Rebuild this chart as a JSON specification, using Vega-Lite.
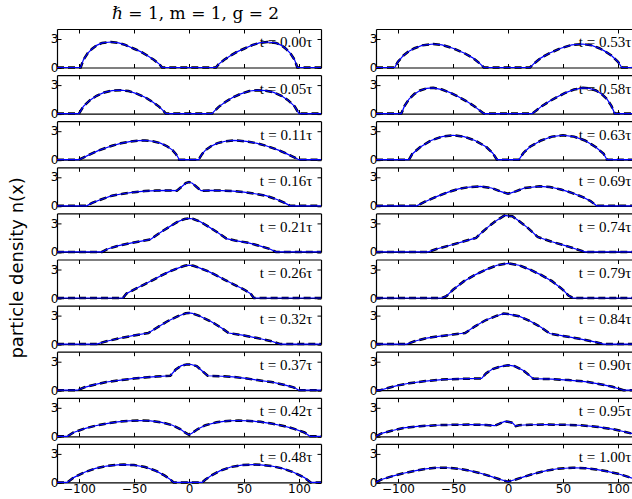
{
"$schema": "https://vega.github.io/schema/vega-lite/v6.json",
"background": "white",
"padding": {"left": 7, "top": 4, "right": 0, "bottom": 5},
"title": {"text": "ℏ = 1, m = 1, g = 2", "anchor": "start", "frame": "group", "dx": 55, "font": "DejaVu Serif", "fontSize": 17, "fontWeight": "normal", "color": "black", "offset": 6},
"config": {
  "view": {"continuousWidth": 264, "continuousHeight": 38.5, "stroke": null},
  "axis": {"domainColor": "black", "domainWidth": 1.2, "tickColor": "black", "tickSize": -4, "tickWidth": 1, "labelFont": "DejaVu Sans", "labelFontSize": 12, "labelColor": "black", "labelPadding": 3, "labelFlush": false, "labelOverlap": false, "labelBound": false, "grid": false},
  "axisX": {"labelPadding": 5},
  "text": {"font": "Liberation Serif", "fontSize": 15, "align": "right", "baseline": "middle", "color": "black"}
},
"datasets": {"d": [
{"t":"0.00","x":-120,"n":0},{"t":"0.00","x":-98.5,"n":0},{"t":"0.00","x":-96,"n":0.8},{"t":"0.00","x":-92,"n":1.5},{"t":"0.00","x":-88,"n":1.95},{"t":"0.00","x":-84,"n":2.3},{"t":"0.00","x":-79,"n":2.55},{"t":"0.00","x":-71,"n":2.65},{"t":"0.00","x":-64,"n":2.55},{"t":"0.00","x":-58,"n":2.35},{"t":"0.00","x":-50,"n":1.95},{"t":"0.00","x":-44,"n":1.65},{"t":"0.00","x":-38,"n":1.25},{"t":"0.00","x":-32,"n":0.8},{"t":"0.00","x":-27,"n":0.35},{"t":"0.00","x":-24.5,"n":0},{"t":"0.00","x":24.5,"n":0},{"t":"0.00","x":27,"n":0.35},{"t":"0.00","x":32,"n":0.8},{"t":"0.00","x":38,"n":1.25},{"t":"0.00","x":44,"n":1.65},{"t":"0.00","x":50,"n":1.95},{"t":"0.00","x":58,"n":2.35},{"t":"0.00","x":64,"n":2.55},{"t":"0.00","x":71,"n":2.65},{"t":"0.00","x":79,"n":2.55},{"t":"0.00","x":84,"n":2.3},{"t":"0.00","x":88,"n":1.95},{"t":"0.00","x":92,"n":1.5},{"t":"0.00","x":96,"n":0.8},{"t":"0.00","x":98.5,"n":0},{"t":"0.00","x":120,"n":0},
{"t":"0.05","x":-120,"n":0},{"t":"0.05","x":-100,"n":0},{"t":"0.05","x":-96,"n":0.75},{"t":"0.05","x":-90,"n":1.4},{"t":"0.05","x":-84,"n":1.85},{"t":"0.05","x":-77,"n":2.2},{"t":"0.05","x":-70,"n":2.38},{"t":"0.05","x":-62,"n":2.43},{"t":"0.05","x":-55,"n":2.35},{"t":"0.05","x":-47,"n":2.05},{"t":"0.05","x":-40,"n":1.7},{"t":"0.05","x":-33,"n":1.2},{"t":"0.05","x":-27,"n":0.7},{"t":"0.05","x":-23,"n":0.25},{"t":"0.05","x":-21,"n":0},{"t":"0.05","x":21,"n":0},{"t":"0.05","x":23,"n":0.25},{"t":"0.05","x":27,"n":0.7},{"t":"0.05","x":33,"n":1.2},{"t":"0.05","x":40,"n":1.7},{"t":"0.05","x":47,"n":2.05},{"t":"0.05","x":55,"n":2.35},{"t":"0.05","x":62,"n":2.43},{"t":"0.05","x":70,"n":2.38},{"t":"0.05","x":77,"n":2.2},{"t":"0.05","x":84,"n":1.85},{"t":"0.05","x":90,"n":1.4},{"t":"0.05","x":96,"n":0.75},{"t":"0.05","x":100,"n":0},{"t":"0.05","x":120,"n":0},
{"t":"0.11","x":-120,"n":0},{"t":"0.11","x":-100,"n":0},{"t":"0.11","x":-90,"n":0.55},{"t":"0.11","x":-82,"n":0.97},{"t":"0.11","x":-70,"n":1.45},{"t":"0.11","x":-62,"n":1.7},{"t":"0.11","x":-54,"n":1.87},{"t":"0.11","x":-46,"n":1.98},{"t":"0.11","x":-40,"n":2.0},{"t":"0.11","x":-33,"n":1.92},{"t":"0.11","x":-26,"n":1.72},{"t":"0.11","x":-20,"n":1.4},{"t":"0.11","x":-15,"n":1.0},{"t":"0.11","x":-12,"n":0.6},{"t":"0.11","x":-10,"n":0.25},{"t":"0.11","x":-9,"n":0},{"t":"0.11","x":9,"n":0},{"t":"0.11","x":10,"n":0.25},{"t":"0.11","x":12,"n":0.6},{"t":"0.11","x":15,"n":1.0},{"t":"0.11","x":20,"n":1.4},{"t":"0.11","x":26,"n":1.72},{"t":"0.11","x":33,"n":1.92},{"t":"0.11","x":40,"n":2.0},{"t":"0.11","x":46,"n":1.98},{"t":"0.11","x":54,"n":1.87},{"t":"0.11","x":62,"n":1.7},{"t":"0.11","x":70,"n":1.45},{"t":"0.11","x":82,"n":0.97},{"t":"0.11","x":90,"n":0.55},{"t":"0.11","x":100,"n":0},{"t":"0.11","x":120,"n":0},
{"t":"0.16","x":-120,"n":0},{"t":"0.16","x":-93,"n":0},{"t":"0.16","x":-88,"n":0.3},{"t":"0.16","x":-80,"n":0.65},{"t":"0.16","x":-70,"n":1.05},{"t":"0.16","x":-60,"n":1.25},{"t":"0.16","x":-50,"n":1.42},{"t":"0.16","x":-40,"n":1.53},{"t":"0.16","x":-30,"n":1.58},{"t":"0.16","x":-20,"n":1.6},{"t":"0.16","x":-11,"n":1.57},{"t":"0.16","x":-7,"n":1.95},{"t":"0.16","x":-3,"n":2.35},{"t":"0.16","x":0,"n":2.47},{"t":"0.16","x":3,"n":2.35},{"t":"0.16","x":7,"n":1.95},{"t":"0.16","x":11,"n":1.57},{"t":"0.16","x":20,"n":1.6},{"t":"0.16","x":30,"n":1.58},{"t":"0.16","x":40,"n":1.53},{"t":"0.16","x":50,"n":1.42},{"t":"0.16","x":60,"n":1.25},{"t":"0.16","x":70,"n":1.05},{"t":"0.16","x":80,"n":0.65},{"t":"0.16","x":87,"n":0.3},{"t":"0.16","x":92,"n":0},{"t":"0.16","x":120,"n":0},
{"t":"0.21","x":-120,"n":0},{"t":"0.21","x":-79,"n":0},{"t":"0.21","x":-74,"n":0.3},{"t":"0.21","x":-65,"n":0.62},{"t":"0.21","x":-52,"n":0.94},{"t":"0.21","x":-42,"n":1.15},{"t":"0.21","x":-35,"n":1.3},{"t":"0.21","x":-30,"n":1.7},{"t":"0.21","x":-25,"n":2.1},{"t":"0.21","x":-18,"n":2.6},{"t":"0.21","x":-10,"n":3.15},{"t":"0.21","x":-4,"n":3.42},{"t":"0.21","x":0,"n":3.49},{"t":"0.21","x":4,"n":3.42},{"t":"0.21","x":10,"n":3.15},{"t":"0.21","x":18,"n":2.6},{"t":"0.21","x":25,"n":2.1},{"t":"0.21","x":30,"n":1.7},{"t":"0.21","x":34,"n":1.38},{"t":"0.21","x":42,"n":1.18},{"t":"0.21","x":54,"n":0.94},{"t":"0.21","x":65,"n":0.6},{"t":"0.21","x":74,"n":0.28},{"t":"0.21","x":79,"n":0},{"t":"0.21","x":120,"n":0},
{"t":"0.26","x":-120,"n":0},{"t":"0.26","x":-60,"n":0},{"t":"0.26","x":-57,"n":0.45},{"t":"0.26","x":-50,"n":0.88},{"t":"0.26","x":-40,"n":1.45},{"t":"0.26","x":-32,"n":1.92},{"t":"0.26","x":-24,"n":2.4},{"t":"0.26","x":-17,"n":2.79},{"t":"0.26","x":-10,"n":3.1},{"t":"0.26","x":-4,"n":3.35},{"t":"0.26","x":0,"n":3.42},{"t":"0.26","x":4,"n":3.35},{"t":"0.26","x":10,"n":3.1},{"t":"0.26","x":17,"n":2.79},{"t":"0.26","x":24,"n":2.4},{"t":"0.26","x":32,"n":1.92},{"t":"0.26","x":40,"n":1.45},{"t":"0.26","x":50,"n":0.88},{"t":"0.26","x":56,"n":0.45},{"t":"0.26","x":59,"n":0},{"t":"0.26","x":120,"n":0},
{"t":"0.32","x":-120,"n":0},{"t":"0.32","x":-84,"n":0},{"t":"0.32","x":-75,"n":0.3},{"t":"0.32","x":-62,"n":0.63},{"t":"0.32","x":-50,"n":0.9},{"t":"0.32","x":-37,"n":1.15},{"t":"0.32","x":-30,"n":1.65},{"t":"0.32","x":-20,"n":2.35},{"t":"0.32","x":-10,"n":2.9},{"t":"0.32","x":-3,"n":3.2},{"t":"0.32","x":0,"n":3.24},{"t":"0.32","x":3,"n":3.2},{"t":"0.32","x":10,"n":2.9},{"t":"0.32","x":20,"n":2.35},{"t":"0.32","x":30,"n":1.65},{"t":"0.32","x":36,"n":1.15},{"t":"0.32","x":50,"n":0.9},{"t":"0.32","x":62,"n":0.63},{"t":"0.32","x":75,"n":0.3},{"t":"0.32","x":83,"n":0},{"t":"0.32","x":120,"n":0},
{"t":"0.37","x":-120,"n":0},{"t":"0.37","x":-101.5,"n":0},{"t":"0.37","x":-95,"n":0.3},{"t":"0.37","x":-85,"n":0.6},{"t":"0.37","x":-75,"n":0.85},{"t":"0.37","x":-62,"n":1.04},{"t":"0.37","x":-50,"n":1.22},{"t":"0.37","x":-40,"n":1.33},{"t":"0.37","x":-30,"n":1.42},{"t":"0.37","x":-17,"n":1.5},{"t":"0.37","x":-12,"n":2.15},{"t":"0.37","x":-7,"n":2.55},{"t":"0.37","x":-2,"n":2.68},{"t":"0.37","x":2,"n":2.67},{"t":"0.37","x":7,"n":2.5},{"t":"0.37","x":12,"n":2.0},{"t":"0.37","x":17,"n":1.5},{"t":"0.37","x":30,"n":1.45},{"t":"0.37","x":40,"n":1.38},{"t":"0.37","x":50,"n":1.25},{"t":"0.37","x":62,"n":1.05},{"t":"0.37","x":75,"n":0.85},{"t":"0.37","x":85,"n":0.6},{"t":"0.37","x":95,"n":0.3},{"t":"0.37","x":100,"n":0},{"t":"0.37","x":120,"n":0},
{"t":"0.42","x":-120,"n":0},{"t":"0.42","x":-110.6,"n":0},{"t":"0.42","x":-105,"n":0.4},{"t":"0.42","x":-95,"n":0.8},{"t":"0.42","x":-85,"n":1.1},{"t":"0.42","x":-75,"n":1.32},{"t":"0.42","x":-65,"n":1.5},{"t":"0.42","x":-55,"n":1.6},{"t":"0.42","x":-45,"n":1.64},{"t":"0.42","x":-35,"n":1.6},{"t":"0.42","x":-25,"n":1.45},{"t":"0.42","x":-15,"n":1.15},{"t":"0.42","x":-8,"n":0.75},{"t":"0.42","x":-3,"n":0.35},{"t":"0.42","x":0,"n":0.15},{"t":"0.42","x":3,"n":0.35},{"t":"0.42","x":8,"n":0.75},{"t":"0.42","x":15,"n":1.15},{"t":"0.42","x":25,"n":1.45},{"t":"0.42","x":35,"n":1.6},{"t":"0.42","x":45,"n":1.64},{"t":"0.42","x":55,"n":1.6},{"t":"0.42","x":65,"n":1.5},{"t":"0.42","x":75,"n":1.32},{"t":"0.42","x":85,"n":1.1},{"t":"0.42","x":95,"n":0.8},{"t":"0.42","x":105,"n":0.4},{"t":"0.42","x":110,"n":0},{"t":"0.42","x":120,"n":0},
{"t":"0.48","x":-120,"n":0},{"t":"0.48","x":-110.6,"n":0},{"t":"0.48","x":-105,"n":0.5},{"t":"0.48","x":-95,"n":1.05},{"t":"0.48","x":-85,"n":1.45},{"t":"0.48","x":-75,"n":1.7},{"t":"0.48","x":-65,"n":1.83},{"t":"0.48","x":-59,"n":1.85},{"t":"0.48","x":-50,"n":1.8},{"t":"0.48","x":-40,"n":1.6},{"t":"0.48","x":-30,"n":1.2},{"t":"0.48","x":-22,"n":0.7},{"t":"0.48","x":-17,"n":0.3},{"t":"0.48","x":-14,"n":0},{"t":"0.48","x":12,"n":0},{"t":"0.48","x":15,"n":0.3},{"t":"0.48","x":20,"n":0.7},{"t":"0.48","x":28,"n":1.2},{"t":"0.48","x":38,"n":1.6},{"t":"0.48","x":48,"n":1.8},{"t":"0.48","x":58,"n":1.85},{"t":"0.48","x":65,"n":1.83},{"t":"0.48","x":75,"n":1.7},{"t":"0.48","x":85,"n":1.45},{"t":"0.48","x":95,"n":1.05},{"t":"0.48","x":105,"n":0.5},{"t":"0.48","x":110.6,"n":0},{"t":"0.48","x":120,"n":0},
{"t":"0.53","x":-120,"n":0},{"t":"0.53","x":-103,"n":0},{"t":"0.53","x":-100,"n":0.6},{"t":"0.53","x":-95,"n":1.25},{"t":"0.53","x":-90,"n":1.7},{"t":"0.53","x":-85,"n":2.0},{"t":"0.53","x":-78,"n":2.3},{"t":"0.53","x":-68,"n":2.44},{"t":"0.53","x":-60,"n":2.35},{"t":"0.53","x":-50,"n":2.0},{"t":"0.53","x":-40,"n":1.5},{"t":"0.53","x":-32,"n":1.0},{"t":"0.53","x":-26,"n":0.45},{"t":"0.53","x":-22,"n":0},{"t":"0.53","x":20,"n":0},{"t":"0.53","x":24,"n":0.45},{"t":"0.53","x":30,"n":1.0},{"t":"0.53","x":38,"n":1.5},{"t":"0.53","x":48,"n":2.0},{"t":"0.53","x":58,"n":2.35},{"t":"0.53","x":68,"n":2.44},{"t":"0.53","x":76,"n":2.3},{"t":"0.53","x":83,"n":2.0},{"t":"0.53","x":88,"n":1.7},{"t":"0.53","x":94,"n":1.25},{"t":"0.53","x":100,"n":0.6},{"t":"0.53","x":103.4,"n":0},{"t":"0.53","x":120,"n":0},
{"t":"0.58","x":-120,"n":0},{"t":"0.58","x":-97,"n":0},{"t":"0.58","x":-94,"n":0.8},{"t":"0.58","x":-90,"n":1.5},{"t":"0.58","x":-85,"n":2.05},{"t":"0.58","x":-80,"n":2.4},{"t":"0.58","x":-74,"n":2.62},{"t":"0.58","x":-68,"n":2.68},{"t":"0.58","x":-60,"n":2.5},{"t":"0.58","x":-52,"n":2.15},{"t":"0.58","x":-45,"n":1.75},{"t":"0.58","x":-38,"n":1.3},{"t":"0.58","x":-31,"n":0.8},{"t":"0.58","x":-26,"n":0.35},{"t":"0.58","x":-22,"n":0},{"t":"0.58","x":22,"n":0},{"t":"0.58","x":26,"n":0.35},{"t":"0.58","x":31,"n":0.8},{"t":"0.58","x":38,"n":1.3},{"t":"0.58","x":45,"n":1.75},{"t":"0.58","x":52,"n":2.15},{"t":"0.58","x":60,"n":2.5},{"t":"0.58","x":68,"n":2.68},{"t":"0.58","x":74,"n":2.62},{"t":"0.58","x":80,"n":2.4},{"t":"0.58","x":85,"n":2.05},{"t":"0.58","x":90,"n":1.5},{"t":"0.58","x":94,"n":0.8},{"t":"0.58","x":97,"n":0},{"t":"0.58","x":120,"n":0},
{"t":"0.63","x":-120,"n":0},{"t":"0.63","x":-90,"n":0},{"t":"0.63","x":-87,"n":0.6},{"t":"0.63","x":-80,"n":1.3},{"t":"0.63","x":-70,"n":2.0},{"t":"0.63","x":-60,"n":2.4},{"t":"0.63","x":-50,"n":2.54},{"t":"0.63","x":-40,"n":2.4},{"t":"0.63","x":-30,"n":2.0},{"t":"0.63","x":-20,"n":1.35},{"t":"0.63","x":-14,"n":0.7},{"t":"0.63","x":-10,"n":0},{"t":"0.63","x":10,"n":0},{"t":"0.63","x":14,"n":0.7},{"t":"0.63","x":20,"n":1.35},{"t":"0.63","x":30,"n":2.0},{"t":"0.63","x":40,"n":2.4},{"t":"0.63","x":50,"n":2.54},{"t":"0.63","x":60,"n":2.4},{"t":"0.63","x":70,"n":2.0},{"t":"0.63","x":80,"n":1.3},{"t":"0.63","x":87,"n":0.6},{"t":"0.63","x":90,"n":0},{"t":"0.63","x":120,"n":0},
{"t":"0.69","x":-120,"n":0},{"t":"0.69","x":-83,"n":0},{"t":"0.69","x":-75,"n":0.45},{"t":"0.69","x":-65,"n":0.95},{"t":"0.69","x":-55,"n":1.4},{"t":"0.69","x":-45,"n":1.75},{"t":"0.69","x":-35,"n":1.95},{"t":"0.69","x":-25,"n":2.02},{"t":"0.69","x":-15,"n":1.85},{"t":"0.69","x":-7,"n":1.5},{"t":"0.69","x":0,"n":1.25},{"t":"0.69","x":7,"n":1.5},{"t":"0.69","x":15,"n":1.85},{"t":"0.69","x":29,"n":2.02},{"t":"0.69","x":38,"n":1.95},{"t":"0.69","x":48,"n":1.7},{"t":"0.69","x":58,"n":1.35},{"t":"0.69","x":68,"n":0.9},{"t":"0.69","x":75,"n":0.5},{"t":"0.69","x":80.6,"n":0},{"t":"0.69","x":120,"n":0},
{"t":"0.74","x":-120,"n":0},{"t":"0.74","x":-72.4,"n":0},{"t":"0.74","x":-65,"n":0.3},{"t":"0.74","x":-50,"n":0.77},{"t":"0.74","x":-40,"n":1.1},{"t":"0.74","x":-29,"n":1.46},{"t":"0.74","x":-25,"n":1.9},{"t":"0.74","x":-18,"n":2.6},{"t":"0.74","x":-10,"n":3.3},{"t":"0.74","x":-3,"n":3.8},{"t":"0.74","x":0,"n":3.75},{"t":"0.74","x":4,"n":3.7},{"t":"0.74","x":10,"n":3.2},{"t":"0.74","x":18,"n":2.5},{"t":"0.74","x":27,"n":1.55},{"t":"0.74","x":40,"n":1.05},{"t":"0.74","x":55,"n":0.55},{"t":"0.74","x":63,"n":0.25},{"t":"0.74","x":70,"n":0},{"t":"0.74","x":120,"n":0},
{"t":"0.79","x":-120,"n":0},{"t":"0.79","x":-60,"n":0},{"t":"0.79","x":-56,"n":0.2},{"t":"0.79","x":-50,"n":0.85},{"t":"0.79","x":-40,"n":1.75},{"t":"0.79","x":-30,"n":2.4},{"t":"0.79","x":-20,"n":2.95},{"t":"0.79","x":-10,"n":3.4},{"t":"0.79","x":0,"n":3.6},{"t":"0.79","x":10,"n":3.4},{"t":"0.79","x":20,"n":2.95},{"t":"0.79","x":30,"n":2.4},{"t":"0.79","x":40,"n":1.75},{"t":"0.79","x":50,"n":0.85},{"t":"0.79","x":55,"n":0.25},{"t":"0.79","x":59,"n":0},{"t":"0.79","x":120,"n":0},
{"t":"0.84","x":-120,"n":0},{"t":"0.84","x":-92,"n":0},{"t":"0.84","x":-85,"n":0.3},{"t":"0.84","x":-74,"n":0.63},{"t":"0.84","x":-60,"n":0.85},{"t":"0.84","x":-50,"n":1.0},{"t":"0.84","x":-39,"n":1.15},{"t":"0.84","x":-30,"n":1.85},{"t":"0.84","x":-20,"n":2.5},{"t":"0.84","x":-10,"n":2.95},{"t":"0.84","x":-4,"n":3.17},{"t":"0.84","x":0,"n":3.12},{"t":"0.84","x":10,"n":2.9},{"t":"0.84","x":20,"n":2.4},{"t":"0.84","x":30,"n":1.75},{"t":"0.84","x":38,"n":1.1},{"t":"0.84","x":50,"n":0.85},{"t":"0.84","x":65,"n":0.55},{"t":"0.84","x":80,"n":0.2},{"t":"0.84","x":87,"n":0},{"t":"0.84","x":120,"n":0},
{"t":"0.90","x":-120,"n":0},{"t":"0.90","x":-116,"n":0},{"t":"0.90","x":-110,"n":0.2},{"t":"0.90","x":-100,"n":0.5},{"t":"0.90","x":-90,"n":0.72},{"t":"0.90","x":-75,"n":0.95},{"t":"0.90","x":-60,"n":1.1},{"t":"0.90","x":-45,"n":1.17},{"t":"0.90","x":-24,"n":1.22},{"t":"0.90","x":-20,"n":1.75},{"t":"0.90","x":-14,"n":2.2},{"t":"0.90","x":-7,"n":2.45},{"t":"0.90","x":0,"n":2.6},{"t":"0.90","x":6,"n":2.5},{"t":"0.90","x":14,"n":2.05},{"t":"0.90","x":23,"n":1.2},{"t":"0.90","x":40,"n":1.15},{"t":"0.90","x":55,"n":1.05},{"t":"0.90","x":70,"n":0.9},{"t":"0.90","x":85,"n":0.6},{"t":"0.90","x":95,"n":0.35},{"t":"0.90","x":105,"n":0},{"t":"0.90","x":120,"n":0},
{"t":"0.95","x":-120,"n":0},{"t":"0.95","x":-115,"n":0.3},{"t":"0.95","x":-105,"n":0.6},{"t":"0.95","x":-95,"n":0.87},{"t":"0.95","x":-80,"n":1.05},{"t":"0.95","x":-65,"n":1.15},{"t":"0.95","x":-50,"n":1.2},{"t":"0.95","x":-35,"n":1.22},{"t":"0.95","x":-20,"n":1.18},{"t":"0.95","x":-12,"n":1.1},{"t":"0.95","x":-8,"n":1.3},{"t":"0.95","x":-3,"n":1.55},{"t":"0.95","x":0,"n":1.52},{"t":"0.95","x":4,"n":1.4},{"t":"0.95","x":7,"n":1.05},{"t":"0.95","x":10,"n":1.15},{"t":"0.95","x":20,"n":1.2},{"t":"0.95","x":35,"n":1.22},{"t":"0.95","x":50,"n":1.2},{"t":"0.95","x":65,"n":1.15},{"t":"0.95","x":80,"n":1.0},{"t":"0.95","x":95,"n":0.75},{"t":"0.95","x":105,"n":0.5},{"t":"0.95","x":112,"n":0.3},{"t":"0.95","x":120,"n":0},
{"t":"1.00","x":-120,"n":0},{"t":"1.00","x":-115,"n":0.3},{"t":"1.00","x":-105,"n":0.65},{"t":"1.00","x":-95,"n":0.95},{"t":"1.00","x":-85,"n":1.2},{"t":"1.00","x":-75,"n":1.4},{"t":"1.00","x":-65,"n":1.52},{"t":"1.00","x":-55,"n":1.52},{"t":"1.00","x":-45,"n":1.42},{"t":"1.00","x":-35,"n":1.22},{"t":"1.00","x":-25,"n":0.95},{"t":"1.00","x":-15,"n":0.6},{"t":"1.00","x":-7,"n":0.3},{"t":"1.00","x":0,"n":0.08},{"t":"1.00","x":7,"n":0.3},{"t":"1.00","x":15,"n":0.6},{"t":"1.00","x":25,"n":0.95},{"t":"1.00","x":35,"n":1.22},{"t":"1.00","x":45,"n":1.42},{"t":"1.00","x":59,"n":1.52},{"t":"1.00","x":70,"n":1.48},{"t":"1.00","x":80,"n":1.35},{"t":"1.00","x":90,"n":1.15},{"t":"1.00","x":100,"n":0.9},{"t":"1.00","x":110,"n":0.55},{"t":"1.00","x":120,"n":0.2}
]},
"data": {"name": "d"},
"spacing": 43,
"hconcat": [
{"spacing": 7.1, "bounds": "flush",
 "vconcat": [
{"transform":[{"filter":"datum.t==='0.00'"}],"layer":[{"transform":[{"filter":"datum.x===-120"},{"calculate":"'t = '+datum.t+'τ'","as":"lab"}],"mark":"text","encoding":{"x":{"datum":112,"type":"quantitative","scale":{"domain":[-120,120]},"axis":null},"y":{"datum":2.6,"type":"quantitative","scale":{"domain":[0,4]},"axis":null},"text":{"field":"lab"}}},{"mark":{"type":"line","color":"black","strokeDash":[7,4],"strokeWidth":2.5},"encoding":{"x":{"field":"x","type":"quantitative","scale":{"domain":[-120,120]},"axis":{"orient":"top","values":[-100,-50,0,50,100],"labels":false,"title":null}},"y":{"field":"n","type":"quantitative","scale":{"domain":[0,4]},"axis":{"orient":"right","values":[0,3],"labels":false,"title":null}}}},{"mark":{"type":"line","color":"#0000ff","strokeWidth":1.2},"encoding":{"x":{"field":"x","type":"quantitative","scale":{"domain":[-120,120]},"axis":{"values":[-100,-50,0,50,100],"labels":false,"title":null}},"y":{"field":"n","type":"quantitative","scale":{"domain":[0,4]},"axis":{"values":[0,3],"title":null}}}}],"resolve":{"axis":{"x":"independent","y":"independent"}}},
{"transform":[{"filter":"datum.t==='0.05'"}],"layer":[{"transform":[{"filter":"datum.x===-120"},{"calculate":"'t = '+datum.t+'τ'","as":"lab"}],"mark":"text","encoding":{"x":{"datum":112,"type":"quantitative","scale":{"domain":[-120,120]},"axis":null},"y":{"datum":2.6,"type":"quantitative","scale":{"domain":[0,4]},"axis":null},"text":{"field":"lab"}}},{"mark":{"type":"line","color":"black","strokeDash":[7,4],"strokeWidth":2.5},"encoding":{"x":{"field":"x","type":"quantitative","scale":{"domain":[-120,120]},"axis":{"orient":"top","values":[-100,-50,0,50,100],"labels":false,"title":null}},"y":{"field":"n","type":"quantitative","scale":{"domain":[0,4]},"axis":{"orient":"right","values":[0,3],"labels":false,"title":null}}}},{"mark":{"type":"line","color":"#0000ff","strokeWidth":1.2},"encoding":{"x":{"field":"x","type":"quantitative","scale":{"domain":[-120,120]},"axis":{"values":[-100,-50,0,50,100],"labels":false,"title":null}},"y":{"field":"n","type":"quantitative","scale":{"domain":[0,4]},"axis":{"values":[0,3],"title":null}}}}],"resolve":{"axis":{"x":"independent","y":"independent"}}},
{"transform":[{"filter":"datum.t==='0.11'"}],"layer":[{"transform":[{"filter":"datum.x===-120"},{"calculate":"'t = '+datum.t+'τ'","as":"lab"}],"mark":"text","encoding":{"x":{"datum":112,"type":"quantitative","scale":{"domain":[-120,120]},"axis":null},"y":{"datum":2.6,"type":"quantitative","scale":{"domain":[0,4]},"axis":null},"text":{"field":"lab"}}},{"mark":{"type":"line","color":"black","strokeDash":[7,4],"strokeWidth":2.5},"encoding":{"x":{"field":"x","type":"quantitative","scale":{"domain":[-120,120]},"axis":{"orient":"top","values":[-100,-50,0,50,100],"labels":false,"title":null}},"y":{"field":"n","type":"quantitative","scale":{"domain":[0,4]},"axis":{"orient":"right","values":[0,3],"labels":false,"title":null}}}},{"mark":{"type":"line","color":"#0000ff","strokeWidth":1.2},"encoding":{"x":{"field":"x","type":"quantitative","scale":{"domain":[-120,120]},"axis":{"values":[-100,-50,0,50,100],"labels":false,"title":null}},"y":{"field":"n","type":"quantitative","scale":{"domain":[0,4]},"axis":{"values":[0,3],"title":null}}}}],"resolve":{"axis":{"x":"independent","y":"independent"}}},
{"transform":[{"filter":"datum.t==='0.16'"}],"layer":[{"transform":[{"filter":"datum.x===-120"},{"calculate":"'t = '+datum.t+'τ'","as":"lab"}],"mark":"text","encoding":{"x":{"datum":112,"type":"quantitative","scale":{"domain":[-120,120]},"axis":null},"y":{"datum":2.6,"type":"quantitative","scale":{"domain":[0,4]},"axis":null},"text":{"field":"lab"}}},{"mark":{"type":"line","color":"black","strokeDash":[7,4],"strokeWidth":2.5},"encoding":{"x":{"field":"x","type":"quantitative","scale":{"domain":[-120,120]},"axis":{"orient":"top","values":[-100,-50,0,50,100],"labels":false,"title":null}},"y":{"field":"n","type":"quantitative","scale":{"domain":[0,4]},"axis":{"orient":"right","values":[0,3],"labels":false,"title":null}}}},{"mark":{"type":"line","color":"#0000ff","strokeWidth":1.2},"encoding":{"x":{"field":"x","type":"quantitative","scale":{"domain":[-120,120]},"axis":{"values":[-100,-50,0,50,100],"labels":false,"title":null}},"y":{"field":"n","type":"quantitative","scale":{"domain":[0,4]},"axis":{"values":[0,3],"title":null}}}}],"resolve":{"axis":{"x":"independent","y":"independent"}}},
{"transform":[{"filter":"datum.t==='0.21'"}],"layer":[{"transform":[{"filter":"datum.x===-120"},{"calculate":"'t = '+datum.t+'τ'","as":"lab"}],"mark":"text","encoding":{"x":{"datum":112,"type":"quantitative","scale":{"domain":[-120,120]},"axis":null},"y":{"datum":2.6,"type":"quantitative","scale":{"domain":[0,4]},"axis":null},"text":{"field":"lab"}}},{"mark":{"type":"line","color":"black","strokeDash":[7,4],"strokeWidth":2.5},"encoding":{"x":{"field":"x","type":"quantitative","scale":{"domain":[-120,120]},"axis":{"orient":"top","values":[-100,-50,0,50,100],"labels":false,"title":null}},"y":{"field":"n","type":"quantitative","scale":{"domain":[0,4]},"axis":{"orient":"right","values":[0,3],"labels":false,"title":null}}}},{"mark":{"type":"line","color":"#0000ff","strokeWidth":1.2},"encoding":{"x":{"field":"x","type":"quantitative","scale":{"domain":[-120,120]},"axis":{"values":[-100,-50,0,50,100],"labels":false,"title":null}},"y":{"field":"n","type":"quantitative","scale":{"domain":[0,4]},"axis":{"values":[0,3],"title":"particle density n(x)","titleX":-40,"titleY":54,"titleAngle":-90,"titleAlign":"center","titleBaseline":"middle","titleFont":"DejaVu Sans","titleFontSize":18,"titleFontWeight":"normal","titleColor":"black"}}}}],"resolve":{"axis":{"x":"independent","y":"independent"}}},
{"transform":[{"filter":"datum.t==='0.26'"}],"layer":[{"transform":[{"filter":"datum.x===-120"},{"calculate":"'t = '+datum.t+'τ'","as":"lab"}],"mark":"text","encoding":{"x":{"datum":112,"type":"quantitative","scale":{"domain":[-120,120]},"axis":null},"y":{"datum":2.6,"type":"quantitative","scale":{"domain":[0,4]},"axis":null},"text":{"field":"lab"}}},{"mark":{"type":"line","color":"black","strokeDash":[7,4],"strokeWidth":2.5},"encoding":{"x":{"field":"x","type":"quantitative","scale":{"domain":[-120,120]},"axis":{"orient":"top","values":[-100,-50,0,50,100],"labels":false,"title":null}},"y":{"field":"n","type":"quantitative","scale":{"domain":[0,4]},"axis":{"orient":"right","values":[0,3],"labels":false,"title":null}}}},{"mark":{"type":"line","color":"#0000ff","strokeWidth":1.2},"encoding":{"x":{"field":"x","type":"quantitative","scale":{"domain":[-120,120]},"axis":{"values":[-100,-50,0,50,100],"labels":false,"title":null}},"y":{"field":"n","type":"quantitative","scale":{"domain":[0,4]},"axis":{"values":[0,3],"title":null}}}}],"resolve":{"axis":{"x":"independent","y":"independent"}}},
{"transform":[{"filter":"datum.t==='0.32'"}],"layer":[{"transform":[{"filter":"datum.x===-120"},{"calculate":"'t = '+datum.t+'τ'","as":"lab"}],"mark":"text","encoding":{"x":{"datum":112,"type":"quantitative","scale":{"domain":[-120,120]},"axis":null},"y":{"datum":2.6,"type":"quantitative","scale":{"domain":[0,4]},"axis":null},"text":{"field":"lab"}}},{"mark":{"type":"line","color":"black","strokeDash":[7,4],"strokeWidth":2.5},"encoding":{"x":{"field":"x","type":"quantitative","scale":{"domain":[-120,120]},"axis":{"orient":"top","values":[-100,-50,0,50,100],"labels":false,"title":null}},"y":{"field":"n","type":"quantitative","scale":{"domain":[0,4]},"axis":{"orient":"right","values":[0,3],"labels":false,"title":null}}}},{"mark":{"type":"line","color":"#0000ff","strokeWidth":1.2},"encoding":{"x":{"field":"x","type":"quantitative","scale":{"domain":[-120,120]},"axis":{"values":[-100,-50,0,50,100],"labels":false,"title":null}},"y":{"field":"n","type":"quantitative","scale":{"domain":[0,4]},"axis":{"values":[0,3],"title":null}}}}],"resolve":{"axis":{"x":"independent","y":"independent"}}},
{"transform":[{"filter":"datum.t==='0.37'"}],"layer":[{"transform":[{"filter":"datum.x===-120"},{"calculate":"'t = '+datum.t+'τ'","as":"lab"}],"mark":"text","encoding":{"x":{"datum":112,"type":"quantitative","scale":{"domain":[-120,120]},"axis":null},"y":{"datum":2.6,"type":"quantitative","scale":{"domain":[0,4]},"axis":null},"text":{"field":"lab"}}},{"mark":{"type":"line","color":"black","strokeDash":[7,4],"strokeWidth":2.5},"encoding":{"x":{"field":"x","type":"quantitative","scale":{"domain":[-120,120]},"axis":{"orient":"top","values":[-100,-50,0,50,100],"labels":false,"title":null}},"y":{"field":"n","type":"quantitative","scale":{"domain":[0,4]},"axis":{"orient":"right","values":[0,3],"labels":false,"title":null}}}},{"mark":{"type":"line","color":"#0000ff","strokeWidth":1.2},"encoding":{"x":{"field":"x","type":"quantitative","scale":{"domain":[-120,120]},"axis":{"values":[-100,-50,0,50,100],"labels":false,"title":null}},"y":{"field":"n","type":"quantitative","scale":{"domain":[0,4]},"axis":{"values":[0,3],"title":null}}}}],"resolve":{"axis":{"x":"independent","y":"independent"}}},
{"transform":[{"filter":"datum.t==='0.42'"}],"layer":[{"transform":[{"filter":"datum.x===-120"},{"calculate":"'t = '+datum.t+'τ'","as":"lab"}],"mark":"text","encoding":{"x":{"datum":112,"type":"quantitative","scale":{"domain":[-120,120]},"axis":null},"y":{"datum":2.6,"type":"quantitative","scale":{"domain":[0,4]},"axis":null},"text":{"field":"lab"}}},{"mark":{"type":"line","color":"black","strokeDash":[7,4],"strokeWidth":2.5},"encoding":{"x":{"field":"x","type":"quantitative","scale":{"domain":[-120,120]},"axis":{"orient":"top","values":[-100,-50,0,50,100],"labels":false,"title":null}},"y":{"field":"n","type":"quantitative","scale":{"domain":[0,4]},"axis":{"orient":"right","values":[0,3],"labels":false,"title":null}}}},{"mark":{"type":"line","color":"#0000ff","strokeWidth":1.2},"encoding":{"x":{"field":"x","type":"quantitative","scale":{"domain":[-120,120]},"axis":{"values":[-100,-50,0,50,100],"labels":false,"title":null}},"y":{"field":"n","type":"quantitative","scale":{"domain":[0,4]},"axis":{"values":[0,3],"title":null}}}}],"resolve":{"axis":{"x":"independent","y":"independent"}}},
{"transform":[{"filter":"datum.t==='0.48'"}],"layer":[{"transform":[{"filter":"datum.x===-120"},{"calculate":"'t = '+datum.t+'τ'","as":"lab"}],"mark":"text","encoding":{"x":{"datum":112,"type":"quantitative","scale":{"domain":[-120,120]},"axis":null},"y":{"datum":2.6,"type":"quantitative","scale":{"domain":[0,4]},"axis":null},"text":{"field":"lab"}}},{"mark":{"type":"line","color":"black","strokeDash":[7,4],"strokeWidth":2.5},"encoding":{"x":{"field":"x","type":"quantitative","scale":{"domain":[-120,120]},"axis":{"orient":"top","values":[-100,-50,0,50,100],"labels":false,"title":null}},"y":{"field":"n","type":"quantitative","scale":{"domain":[0,4]},"axis":{"orient":"right","values":[0,3],"labels":false,"title":null}}}},{"mark":{"type":"line","color":"#0000ff","strokeWidth":1.2},"encoding":{"x":{"field":"x","type":"quantitative","scale":{"domain":[-120,120]},"axis":{"values":[-100,-50,0,50,100],"labels":true,"title":null}},"y":{"field":"n","type":"quantitative","scale":{"domain":[0,4]},"axis":{"values":[0,3],"title":null}}}}],"resolve":{"axis":{"x":"independent","y":"independent"}}}
]},
{"spacing": 7.1, "bounds": "flush",
 "vconcat": [
{"transform":[{"filter":"datum.t==='0.53'"}],"layer":[{"transform":[{"filter":"datum.x===-120"},{"calculate":"'t = '+datum.t+'τ'","as":"lab"}],"mark":"text","encoding":{"x":{"datum":112,"type":"quantitative","scale":{"domain":[-120,120]},"axis":null},"y":{"datum":2.6,"type":"quantitative","scale":{"domain":[0,4]},"axis":null},"text":{"field":"lab"}}},{"mark":{"type":"line","color":"black","strokeDash":[7,4],"strokeWidth":2.5},"encoding":{"x":{"field":"x","type":"quantitative","scale":{"domain":[-120,120]},"axis":{"orient":"top","values":[-100,-50,0,50,100],"labels":false,"title":null}},"y":{"field":"n","type":"quantitative","scale":{"domain":[0,4]},"axis":{"orient":"right","values":[0,3],"labels":false,"title":null}}}},{"mark":{"type":"line","color":"#0000ff","strokeWidth":1.2},"encoding":{"x":{"field":"x","type":"quantitative","scale":{"domain":[-120,120]},"axis":{"values":[-100,-50,0,50,100],"labels":false,"title":null}},"y":{"field":"n","type":"quantitative","scale":{"domain":[0,4]},"axis":{"values":[0,3],"title":null}}}}],"resolve":{"axis":{"x":"independent","y":"independent"}}},
{"transform":[{"filter":"datum.t==='0.58'"}],"layer":[{"transform":[{"filter":"datum.x===-120"},{"calculate":"'t = '+datum.t+'τ'","as":"lab"}],"mark":"text","encoding":{"x":{"datum":112,"type":"quantitative","scale":{"domain":[-120,120]},"axis":null},"y":{"datum":2.6,"type":"quantitative","scale":{"domain":[0,4]},"axis":null},"text":{"field":"lab"}}},{"mark":{"type":"line","color":"black","strokeDash":[7,4],"strokeWidth":2.5},"encoding":{"x":{"field":"x","type":"quantitative","scale":{"domain":[-120,120]},"axis":{"orient":"top","values":[-100,-50,0,50,100],"labels":false,"title":null}},"y":{"field":"n","type":"quantitative","scale":{"domain":[0,4]},"axis":{"orient":"right","values":[0,3],"labels":false,"title":null}}}},{"mark":{"type":"line","color":"#0000ff","strokeWidth":1.2},"encoding":{"x":{"field":"x","type":"quantitative","scale":{"domain":[-120,120]},"axis":{"values":[-100,-50,0,50,100],"labels":false,"title":null}},"y":{"field":"n","type":"quantitative","scale":{"domain":[0,4]},"axis":{"values":[0,3],"title":null}}}}],"resolve":{"axis":{"x":"independent","y":"independent"}}},
{"transform":[{"filter":"datum.t==='0.63'"}],"layer":[{"transform":[{"filter":"datum.x===-120"},{"calculate":"'t = '+datum.t+'τ'","as":"lab"}],"mark":"text","encoding":{"x":{"datum":112,"type":"quantitative","scale":{"domain":[-120,120]},"axis":null},"y":{"datum":2.6,"type":"quantitative","scale":{"domain":[0,4]},"axis":null},"text":{"field":"lab"}}},{"mark":{"type":"line","color":"black","strokeDash":[7,4],"strokeWidth":2.5},"encoding":{"x":{"field":"x","type":"quantitative","scale":{"domain":[-120,120]},"axis":{"orient":"top","values":[-100,-50,0,50,100],"labels":false,"title":null}},"y":{"field":"n","type":"quantitative","scale":{"domain":[0,4]},"axis":{"orient":"right","values":[0,3],"labels":false,"title":null}}}},{"mark":{"type":"line","color":"#0000ff","strokeWidth":1.2},"encoding":{"x":{"field":"x","type":"quantitative","scale":{"domain":[-120,120]},"axis":{"values":[-100,-50,0,50,100],"labels":false,"title":null}},"y":{"field":"n","type":"quantitative","scale":{"domain":[0,4]},"axis":{"values":[0,3],"title":null}}}}],"resolve":{"axis":{"x":"independent","y":"independent"}}},
{"transform":[{"filter":"datum.t==='0.69'"}],"layer":[{"transform":[{"filter":"datum.x===-120"},{"calculate":"'t = '+datum.t+'τ'","as":"lab"}],"mark":"text","encoding":{"x":{"datum":112,"type":"quantitative","scale":{"domain":[-120,120]},"axis":null},"y":{"datum":2.6,"type":"quantitative","scale":{"domain":[0,4]},"axis":null},"text":{"field":"lab"}}},{"mark":{"type":"line","color":"black","strokeDash":[7,4],"strokeWidth":2.5},"encoding":{"x":{"field":"x","type":"quantitative","scale":{"domain":[-120,120]},"axis":{"orient":"top","values":[-100,-50,0,50,100],"labels":false,"title":null}},"y":{"field":"n","type":"quantitative","scale":{"domain":[0,4]},"axis":{"orient":"right","values":[0,3],"labels":false,"title":null}}}},{"mark":{"type":"line","color":"#0000ff","strokeWidth":1.2},"encoding":{"x":{"field":"x","type":"quantitative","scale":{"domain":[-120,120]},"axis":{"values":[-100,-50,0,50,100],"labels":false,"title":null}},"y":{"field":"n","type":"quantitative","scale":{"domain":[0,4]},"axis":{"values":[0,3],"title":null}}}}],"resolve":{"axis":{"x":"independent","y":"independent"}}},
{"transform":[{"filter":"datum.t==='0.74'"}],"layer":[{"transform":[{"filter":"datum.x===-120"},{"calculate":"'t = '+datum.t+'τ'","as":"lab"}],"mark":"text","encoding":{"x":{"datum":112,"type":"quantitative","scale":{"domain":[-120,120]},"axis":null},"y":{"datum":2.6,"type":"quantitative","scale":{"domain":[0,4]},"axis":null},"text":{"field":"lab"}}},{"mark":{"type":"line","color":"black","strokeDash":[7,4],"strokeWidth":2.5},"encoding":{"x":{"field":"x","type":"quantitative","scale":{"domain":[-120,120]},"axis":{"orient":"top","values":[-100,-50,0,50,100],"labels":false,"title":null}},"y":{"field":"n","type":"quantitative","scale":{"domain":[0,4]},"axis":{"orient":"right","values":[0,3],"labels":false,"title":null}}}},{"mark":{"type":"line","color":"#0000ff","strokeWidth":1.2},"encoding":{"x":{"field":"x","type":"quantitative","scale":{"domain":[-120,120]},"axis":{"values":[-100,-50,0,50,100],"labels":false,"title":null}},"y":{"field":"n","type":"quantitative","scale":{"domain":[0,4]},"axis":{"values":[0,3],"title":null}}}}],"resolve":{"axis":{"x":"independent","y":"independent"}}},
{"transform":[{"filter":"datum.t==='0.79'"}],"layer":[{"transform":[{"filter":"datum.x===-120"},{"calculate":"'t = '+datum.t+'τ'","as":"lab"}],"mark":"text","encoding":{"x":{"datum":112,"type":"quantitative","scale":{"domain":[-120,120]},"axis":null},"y":{"datum":2.6,"type":"quantitative","scale":{"domain":[0,4]},"axis":null},"text":{"field":"lab"}}},{"mark":{"type":"line","color":"black","strokeDash":[7,4],"strokeWidth":2.5},"encoding":{"x":{"field":"x","type":"quantitative","scale":{"domain":[-120,120]},"axis":{"orient":"top","values":[-100,-50,0,50,100],"labels":false,"title":null}},"y":{"field":"n","type":"quantitative","scale":{"domain":[0,4]},"axis":{"orient":"right","values":[0,3],"labels":false,"title":null}}}},{"mark":{"type":"line","color":"#0000ff","strokeWidth":1.2},"encoding":{"x":{"field":"x","type":"quantitative","scale":{"domain":[-120,120]},"axis":{"values":[-100,-50,0,50,100],"labels":false,"title":null}},"y":{"field":"n","type":"quantitative","scale":{"domain":[0,4]},"axis":{"values":[0,3],"title":null}}}}],"resolve":{"axis":{"x":"independent","y":"independent"}}},
{"transform":[{"filter":"datum.t==='0.84'"}],"layer":[{"transform":[{"filter":"datum.x===-120"},{"calculate":"'t = '+datum.t+'τ'","as":"lab"}],"mark":"text","encoding":{"x":{"datum":112,"type":"quantitative","scale":{"domain":[-120,120]},"axis":null},"y":{"datum":2.6,"type":"quantitative","scale":{"domain":[0,4]},"axis":null},"text":{"field":"lab"}}},{"mark":{"type":"line","color":"black","strokeDash":[7,4],"strokeWidth":2.5},"encoding":{"x":{"field":"x","type":"quantitative","scale":{"domain":[-120,120]},"axis":{"orient":"top","values":[-100,-50,0,50,100],"labels":false,"title":null}},"y":{"field":"n","type":"quantitative","scale":{"domain":[0,4]},"axis":{"orient":"right","values":[0,3],"labels":false,"title":null}}}},{"mark":{"type":"line","color":"#0000ff","strokeWidth":1.2},"encoding":{"x":{"field":"x","type":"quantitative","scale":{"domain":[-120,120]},"axis":{"values":[-100,-50,0,50,100],"labels":false,"title":null}},"y":{"field":"n","type":"quantitative","scale":{"domain":[0,4]},"axis":{"values":[0,3],"title":null}}}}],"resolve":{"axis":{"x":"independent","y":"independent"}}},
{"transform":[{"filter":"datum.t==='0.90'"}],"layer":[{"transform":[{"filter":"datum.x===-120"},{"calculate":"'t = '+datum.t+'τ'","as":"lab"}],"mark":"text","encoding":{"x":{"datum":112,"type":"quantitative","scale":{"domain":[-120,120]},"axis":null},"y":{"datum":2.6,"type":"quantitative","scale":{"domain":[0,4]},"axis":null},"text":{"field":"lab"}}},{"mark":{"type":"line","color":"black","strokeDash":[7,4],"strokeWidth":2.5},"encoding":{"x":{"field":"x","type":"quantitative","scale":{"domain":[-120,120]},"axis":{"orient":"top","values":[-100,-50,0,50,100],"labels":false,"title":null}},"y":{"field":"n","type":"quantitative","scale":{"domain":[0,4]},"axis":{"orient":"right","values":[0,3],"labels":false,"title":null}}}},{"mark":{"type":"line","color":"#0000ff","strokeWidth":1.2},"encoding":{"x":{"field":"x","type":"quantitative","scale":{"domain":[-120,120]},"axis":{"values":[-100,-50,0,50,100],"labels":false,"title":null}},"y":{"field":"n","type":"quantitative","scale":{"domain":[0,4]},"axis":{"values":[0,3],"title":null}}}}],"resolve":{"axis":{"x":"independent","y":"independent"}}},
{"transform":[{"filter":"datum.t==='0.95'"}],"layer":[{"transform":[{"filter":"datum.x===-120"},{"calculate":"'t = '+datum.t+'τ'","as":"lab"}],"mark":"text","encoding":{"x":{"datum":112,"type":"quantitative","scale":{"domain":[-120,120]},"axis":null},"y":{"datum":2.6,"type":"quantitative","scale":{"domain":[0,4]},"axis":null},"text":{"field":"lab"}}},{"mark":{"type":"line","color":"black","strokeDash":[7,4],"strokeWidth":2.5},"encoding":{"x":{"field":"x","type":"quantitative","scale":{"domain":[-120,120]},"axis":{"orient":"top","values":[-100,-50,0,50,100],"labels":false,"title":null}},"y":{"field":"n","type":"quantitative","scale":{"domain":[0,4]},"axis":{"orient":"right","values":[0,3],"labels":false,"title":null}}}},{"mark":{"type":"line","color":"#0000ff","strokeWidth":1.2},"encoding":{"x":{"field":"x","type":"quantitative","scale":{"domain":[-120,120]},"axis":{"values":[-100,-50,0,50,100],"labels":false,"title":null}},"y":{"field":"n","type":"quantitative","scale":{"domain":[0,4]},"axis":{"values":[0,3],"title":null}}}}],"resolve":{"axis":{"x":"independent","y":"independent"}}},
{"transform":[{"filter":"datum.t==='1.00'"}],"layer":[{"transform":[{"filter":"datum.x===-120"},{"calculate":"'t = '+datum.t+'τ'","as":"lab"}],"mark":"text","encoding":{"x":{"datum":112,"type":"quantitative","scale":{"domain":[-120,120]},"axis":null},"y":{"datum":2.6,"type":"quantitative","scale":{"domain":[0,4]},"axis":null},"text":{"field":"lab"}}},{"mark":{"type":"line","color":"black","strokeDash":[7,4],"strokeWidth":2.5},"encoding":{"x":{"field":"x","type":"quantitative","scale":{"domain":[-120,120]},"axis":{"orient":"top","values":[-100,-50,0,50,100],"labels":false,"title":null}},"y":{"field":"n","type":"quantitative","scale":{"domain":[0,4]},"axis":{"orient":"right","values":[0,3],"labels":false,"title":null}}}},{"mark":{"type":"line","color":"#0000ff","strokeWidth":1.2},"encoding":{"x":{"field":"x","type":"quantitative","scale":{"domain":[-120,120]},"axis":{"values":[-100,-50,0,50,100],"labels":true,"title":null}},"y":{"field":"n","type":"quantitative","scale":{"domain":[0,4]},"axis":{"values":[0,3],"title":null}}}}],"resolve":{"axis":{"x":"independent","y":"independent"}}}
]}
]
}
